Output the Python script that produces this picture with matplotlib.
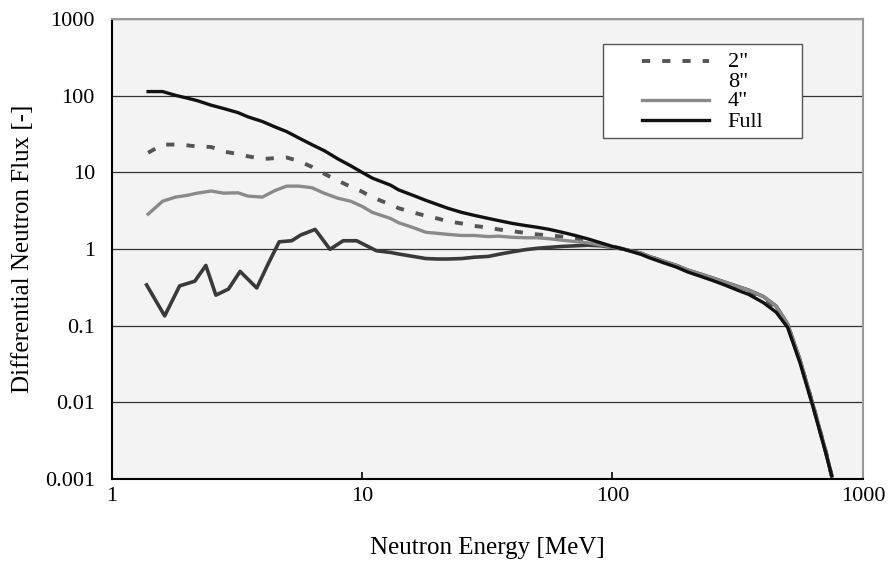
import matplotlib.pyplot as plt
from matplotlib.patches import Rectangle

# neutron energy grid [MeV]
energy = [1.4, 1.6, 1.8, 2.0, 2.2, 2.5, 2.8, 3.2, 3.5, 4.0, 4.5, 5.0, 5.6, 6.3, 7.1, 8.0, 9.0,
          10, 11, 13, 14, 16, 18, 20, 22, 25, 28, 32, 35, 40, 45, 50, 56, 63, 71, 80, 90,
          100, 110, 130, 140, 160, 180, 200, 220, 250, 280, 320, 350, 400, 450, 500, 560, 630, 710, 750]

flux_2in = [18, 23, 23, 22.5, 21.7, 21.4, 18.7, 17.3, 16.2, 14.9, 15.3, 15.6, 14, 11.8, 9.5, 7.8, 6.5,
            5.6, 4.7, 3.8, 3.4, 3.0, 2.7, 2.5, 2.3, 2.15, 2.0, 1.9, 1.8, 1.7, 1.62, 1.55, 1.5, 1.45, 1.38, 1.28, 1.17,
            1.08, 1.0, 0.87, 0.8, 0.68, 0.6, 0.52, 0.47, 0.41, 0.36, 0.31, 0.28, 0.23, 0.17, 0.1, 0.035, 0.0095, 0.0023, 0.0011]

flux_4in = [2.85, 4.2, 4.75, 5.0, 5.35, 5.7, 5.35, 5.4, 4.9, 4.75, 5.8, 6.6, 6.6, 6.3, 5.3, 4.6, 4.2,
            3.6, 3.0, 2.5, 2.2, 1.9, 1.65, 1.6, 1.55, 1.5, 1.5, 1.45, 1.47, 1.42, 1.4, 1.4, 1.36, 1.3, 1.25, 1.2, 1.12,
            1.05, 1.0, 0.88, 0.8, 0.69, 0.61, 0.53, 0.48, 0.42, 0.37, 0.32, 0.29, 0.24, 0.18, 0.105, 0.036, 0.0095, 0.0023, 0.0011]

flux_full = [113, 113, 101, 93, 86, 75, 68, 60, 53, 46, 39, 34, 28, 23, 19, 15, 12.2,
             10, 8.4, 6.8, 5.9, 5.0, 4.3, 3.8, 3.4, 3.0, 2.75, 2.5, 2.35, 2.15, 2.02, 1.92, 1.8, 1.65, 1.5, 1.35, 1.2,
             1.08, 1.0, 0.85, 0.77, 0.66, 0.58, 0.5, 0.45, 0.39, 0.34, 0.285, 0.255, 0.2, 0.15, 0.095, 0.033, 0.009, 0.0022, 0.0011]

energy_8in = [1.38, 1.63, 1.87, 2.15, 2.38, 2.61, 2.93, 3.26, 3.8, 4.23, 4.67, 5.24, 5.69, 6.5, 7.45, 8.41, 9.52, 11.4,
              13, 14, 16, 18, 20, 22, 25, 28, 32, 35, 40, 45, 50, 56, 63, 71, 80, 90,
              100, 110, 130, 140, 160, 180, 200, 220, 250, 280, 320, 350, 400, 450, 500, 560, 630, 710, 750]
flux_8in = [0.34, 0.134, 0.33, 0.38, 0.61, 0.25, 0.30, 0.51, 0.31, 0.65, 1.24, 1.28, 1.52, 1.8, 0.99, 1.28, 1.28, 0.95,
            0.9, 0.86, 0.8, 0.75, 0.74, 0.74, 0.75, 0.78, 0.8, 0.85, 0.92, 0.98, 1.02, 1.05, 1.08, 1.1, 1.12, 1.1,
            1.05, 1.0, 0.88, 0.8, 0.69, 0.61, 0.53, 0.48, 0.42, 0.37, 0.32, 0.29, 0.24, 0.18, 0.105, 0.036, 0.0095, 0.0023, 0.0011]

labels = ['2"', '8"', '4"', 'Full']
x_ticks = [1, 10, 100, 1000]
x_ticklabels = ['1', '10', '100', '1000']
y_ticks = [0.001, 0.01, 0.1, 1, 10, 100, 1000]
y_ticklabels = ['0.001', '0.01', '0.1', '1', '10', '100', '1000']

plt.rcParams['font.family'] = ['Liberation Serif', 'DejaVu Serif']

fig = plt.figure(figsize=(8.88, 5.75), dpi=100)
ax = fig.add_axes([0.1256, 0.167, 0.8462, 0.8])
ax.set_facecolor('#f3f3f3')

ax.set_xscale('log')
ax.set_yscale('log')
ax.set_xlim(1, 1000)
ax.set_ylim(0.001, 1000)

ax.yaxis.grid(True, color='#333333', linewidth=0.9)
ax.set_axisbelow(True)

ax.plot(energy, flux_2in, color='#555555', lw=2.8, dashes=(2.1, 3.1), dash_capstyle='butt')
ax.plot(energy_8in, flux_8in, color='#3a3a3a', lw=2.6)
ax.plot(energy, flux_4in, color='#8a8a8a', lw=2.4)
ax.plot(energy, flux_full, color='#111111', lw=2.4)

ax.set_xticks(x_ticks)
ax.set_xticklabels(x_ticklabels)
ax.set_yticks(y_ticks)
ax.set_yticklabels(y_ticklabels)
ax.minorticks_off()
ax.tick_params(axis='x', direction='in', length=5, width=1.2, pad=6, labelsize=16)
ax.tick_params(axis='y', length=0, pad=12, labelsize=16)

for side in ['left', 'bottom']:
    ax.spines[side].set_color('black')
    ax.spines[side].set_linewidth(1.5)
for side in ['top', 'right']:
    ax.spines[side].set_color('#999999')
    ax.spines[side].set_linewidth(1.5)

ax.set_xlabel('Neutron Energy [MeV]', fontsize=18, labelpad=22)
ax.set_ylabel('Differential Neutron Flux [-]', fontsize=18, labelpad=8)

# legend box, drawn by hand to keep the tight Excel-style row spacing
ax.add_patch(Rectangle((0.654, 0.741), 0.265, 0.205, transform=ax.transAxes,
                       facecolor='white', edgecolor='#555555', lw=1, zorder=5))
row_line_y = [0.9087, 0.8674, 0.8239, 0.7804]
row_text_y = [0.8963, 0.8515, 0.8115, 0.7645]
styles = [dict(color='#555555', lw=2.8, dashes=(2.1, 3.1), dash_capstyle='butt'),
          None,
          dict(color='#8a8a8a', lw=2.4),
          dict(color='#111111', lw=2.4)]
for lab, ly, ty, st in zip(labels, row_line_y, row_text_y, styles):
    if st is not None:
        ax.plot([0.706, 0.795], [ly, ly], transform=ax.transAxes, zorder=6, **st)
    ax.text(0.820, ty, lab, transform=ax.transAxes, fontsize=16, va='baseline', zorder=6)

fig.savefig('out.png', dpi=100)
